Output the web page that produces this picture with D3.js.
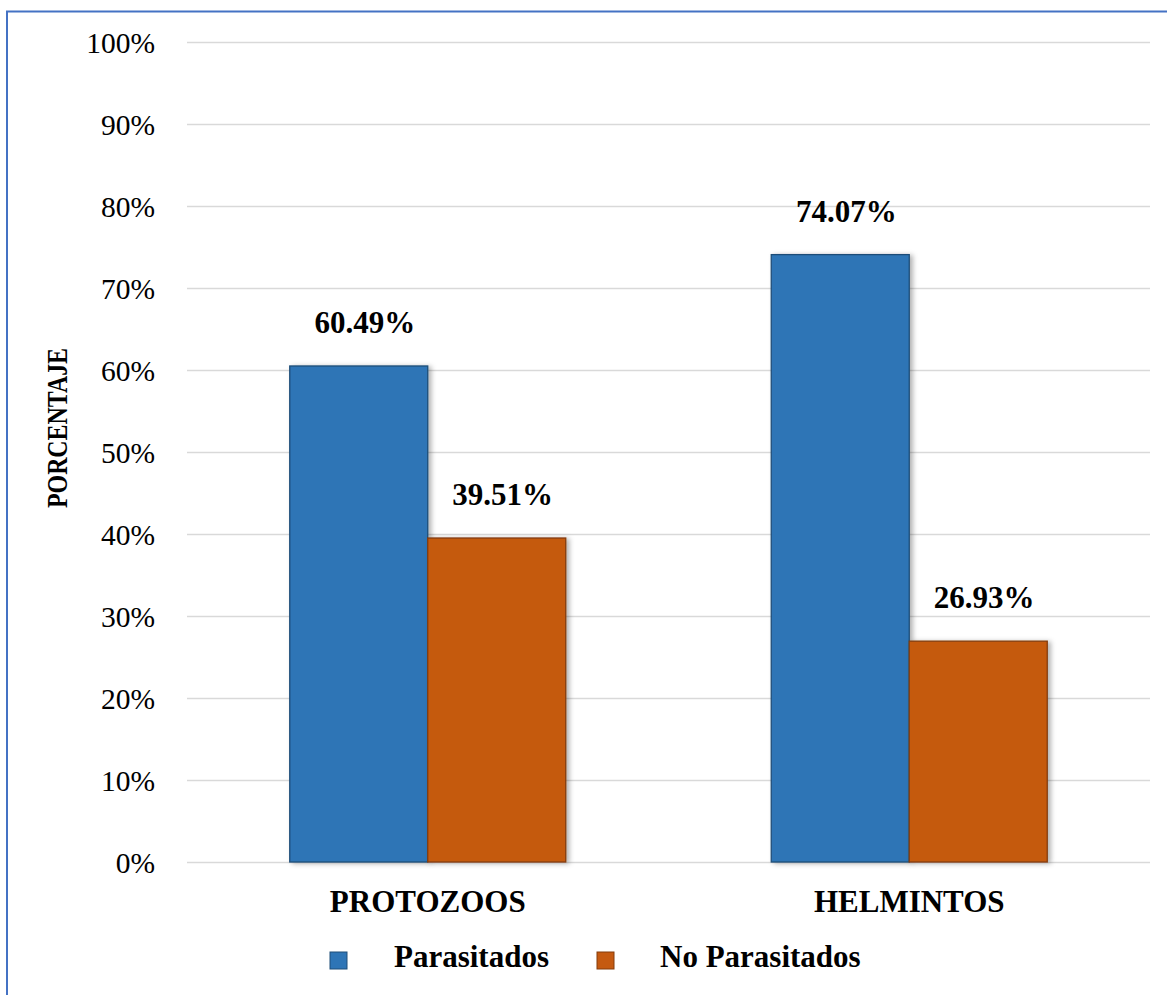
<!DOCTYPE html>
<html>
<head>
<meta charset="utf-8">
<script src="https://cdn.jsdelivr.net/npm/d3@7"></script>
<style>
  html, body { margin: 0; padding: 0; background: #ffffff; }
  svg { display: block; }
  text { font-family: "Liberation Serif", "Times New Roman", serif; fill: #000; }
</style>
</head>
<body>
<svg id="chart" width="1167" height="995"></svg>
<script>
// Chart data
const categories = ["PROTOZOOS", "HELMINTOS"];
const seriesNames = ["Parasitados", "No Parasitados"];
const parasitados = [60.49, 74.07];
const noParasitados = [39.51, 26.93];
const tickValues = [0, 10, 20, 30, 40, 50, 60, 70, 80, 90, 100];
const seriesColors = ["#2E75B6", "#C55A11"];
const seriesStrokes = ["#1F4E79", "#843C0C"];

const rows = categories.map((c, i) => ({
  category: c,
  values: [
    { series: seriesNames[0], value: parasitados[i] },
    { series: seriesNames[1], value: noParasitados[i] }
  ]
}));

const svg = d3.select("#chart");
const W = 1167, H = 995;
const plot = { left: 187, right: 1150, top: 42, bottom: 862 };

// Frame lines (left and top)
svg.append("line").attr("x1", 7).attr("x2", 7).attr("y1", 11).attr("y2", H)
  .attr("stroke", "#4472C4").attr("stroke-width", 2);
svg.append("line").attr("x1", 6).attr("x2", W).attr("y1", 11.5).attr("y2", 11.5)
  .attr("stroke", "#4472C4").attr("stroke-width", 2);

// Soft shadow behind the bars
const defs = svg.append("defs");
const f = defs.append("filter").attr("id", "barShadow")
  .attr("x", "-10%").attr("y", "-10%").attr("width", "130%").attr("height", "120%");
f.append("feDropShadow").attr("dx", 3).attr("dy", 1).attr("stdDeviation", 2.5)
  .attr("flood-color", "#000").attr("flood-opacity", 0.3);

const y = d3.scaleLinear().domain([0, 100]).range([plot.bottom, plot.top]);
const x0 = d3.scaleBand().domain(categories).range([plot.left, plot.right])
  .paddingInner(0).paddingOuter(0);
const x1 = d3.scaleBand().domain(seriesNames).range([0, x0.bandwidth()])
  .paddingInner(0).paddingOuter(0.7446);
const color = d3.scaleOrdinal().domain(seriesNames).range(seriesColors);
const stroke = d3.scaleOrdinal().domain(seriesNames).range(seriesStrokes);

// Y axis with gridlines
const yAxis = svg.append("g")
  .attr("transform", `translate(${plot.left},0)`)
  .call(d3.axisLeft(y)
    .tickValues(tickValues)
    .tickSize(-(plot.right - plot.left))
    .tickPadding(32)
    .tickFormat(d => d + "%"));
yAxis.select(".domain").remove();
yAxis.selectAll(".tick line").attr("stroke", "#d9d9d9").attr("stroke-width", 1.5);
yAxis.selectAll(".tick text")
  .attr("font-family", "Liberation Serif, Times New Roman, serif")
  .attr("font-size", 29.5)
  .attr("fill", "#000")
  .attr("dy", "0.34em");

// Bars
const groups = svg.append("g").selectAll("g")
  .data(rows).join("g")
  .attr("transform", d => `translate(${x0(d.category)},0)`);

groups.selectAll("rect")
  .data(d => d.values).join("rect")
  .attr("x", d => x1(d.series))
  .attr("y", d => y(d.value))
  .attr("width", x1.bandwidth())
  .attr("height", d => y(0) - y(d.value))
  .attr("fill", d => color(d.series))
  .attr("stroke", d => stroke(d.series))
  .attr("stroke-width", 1.3)
  .attr("filter", "url(#barShadow)");

// Value labels
groups.selectAll("text.value")
  .data(d => d.values).join("text")
  .attr("class", "value")
  .attr("x", d => x1(d.series) + x1.bandwidth() / 2 + 6)
  .attr("y", d => y(d.value) - 33)
  .attr("text-anchor", "middle")
  .attr("font-weight", "bold")
  .attr("font-size", 31)
  .text(d => d.value.toFixed(2) + "%");

// Category labels
svg.append("g").selectAll("text")
  .data(categories).join("text")
  .attr("x", d => x0(d) + x0.bandwidth() / 2)
  .attr("y", 912)
  .attr("text-anchor", "middle")
  .attr("font-weight", "bold")
  .attr("font-size", 31)
  .text(d => d);

// Y axis title (condensed to fit its slot)
svg.append("text")
  .attr("transform", "translate(67,428) rotate(-90)")
  .attr("text-anchor", "middle")
  .attr("font-weight", "bold")
  .attr("font-size", 28.5)
  .attr("textLength", 160)
  .attr("lengthAdjust", "spacingAndGlyphs")
  .text("PORCENTAJE");

// Legend
const legendX = [330, 597];
const legend = svg.append("g").selectAll("g")
  .data(seriesNames).join("g")
  .attr("transform", (d, i) => `translate(${legendX[i]},952)`);
legend.append("rect")
  .attr("width", 17).attr("height", 17)
  .attr("fill", d => color(d))
  .attr("stroke", d => stroke(d))
  .attr("stroke-width", 1);
legend.append("text")
  .attr("x", (d, i) => i === 0 ? 64 : 63)
  .attr("y", 15)
  .attr("font-weight", "bold")
  .attr("font-size", 31)
  .text(d => d);
</script>
</body>
</html>
